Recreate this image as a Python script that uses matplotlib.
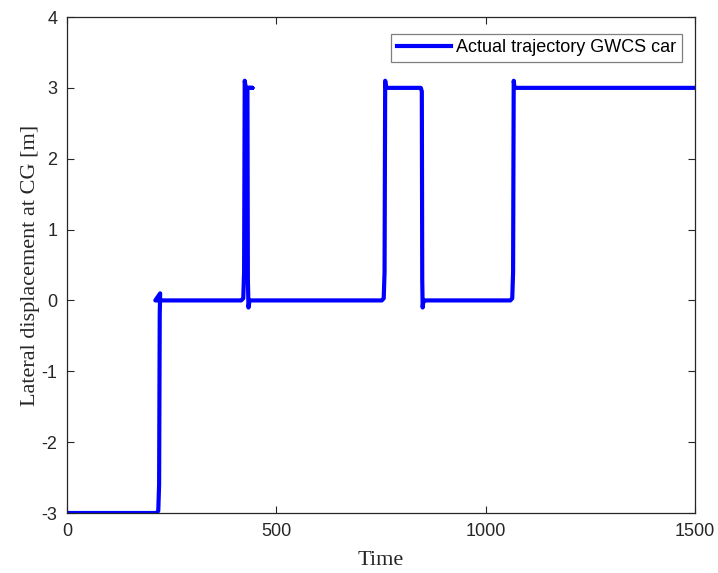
import matplotlib.pyplot as plt

plt.rcParams['axes.unicode_minus'] = False

# trajectory vertices (time, lateral displacement)
time = [0, 214, 218, 220, 221.5, 222.5, 211,
        416, 421, 423, 424.5, 427, 443, 431, 431, 432, 433.5, 436,
        752, 756.5, 758.5, 760, 762, 845, 847.5, 848.5, 849.5, 851, 853,
        1059, 1063.5, 1065.5, 1067, 1069, 1500]
lateral = [-3, -3, -2.97, -2.6, -0.2, 0.1, 0.0,
           0.0, 0.03, 0.4, 3.1, 3.0, 3.0, 3.0, 2.9, 0.3, -0.1, 0.0,
           0.0, 0.03, 0.4, 3.1, 3.0, 3.0, 2.95, 0.3, -0.1, -0.02, 0.0,
           0.0, 0.03, 0.4, 3.1, 3.0, 3.0]

x_ticks = [0, 500, 1000, 1500]
y_ticks = [-3, -2, -1, 0, 1, 2, 3, 4]

fig = plt.figure(figsize=(7.18, 5.73), dpi=100)
ax = fig.add_axes([67 / 718, 1 - 513 / 573, 628 / 718, 496 / 573])

ax.plot(time, lateral, color='#0000ff', linewidth=3.0,
        solid_joinstyle='round', label='Actual trajectory GWCS car')

ax.set_xlim(0, 1500)
ax.set_ylim(-3, 4)
ax.set_xticks(x_ticks)
ax.set_yticks(y_ticks)
ax.tick_params(direction='in', top=True, right=True, length=5, width=0.8,
               labelsize=13, pad=7, colors='#262626')
for lbl in ax.get_xticklabels() + ax.get_yticklabels():
    lbl.set_family('Liberation Sans')
for s in ax.spines.values():
    s.set_linewidth(0.9)
    s.set_color('#262626')

ax.set_xlabel('Time', family='Liberation Serif', fontsize=16, color='#262626',
              labelpad=8)
ax.set_ylabel('Lateral displacement at CG [m]', family='Liberation Serif',
              fontsize=16, color='#262626', labelpad=1)

leg = ax.legend(loc='upper right', bbox_to_anchor=(0.979, 0.966),
                borderaxespad=0, fancybox=False, framealpha=1,
                edgecolor='#7f7f7f', prop={'family': 'Liberation Sans', 'size': 13},
                handlelength=3.0, handletextpad=0.3, borderpad=0.3)
leg.get_frame().set_linewidth(0.9)

fig.savefig('out.png', dpi=100)
